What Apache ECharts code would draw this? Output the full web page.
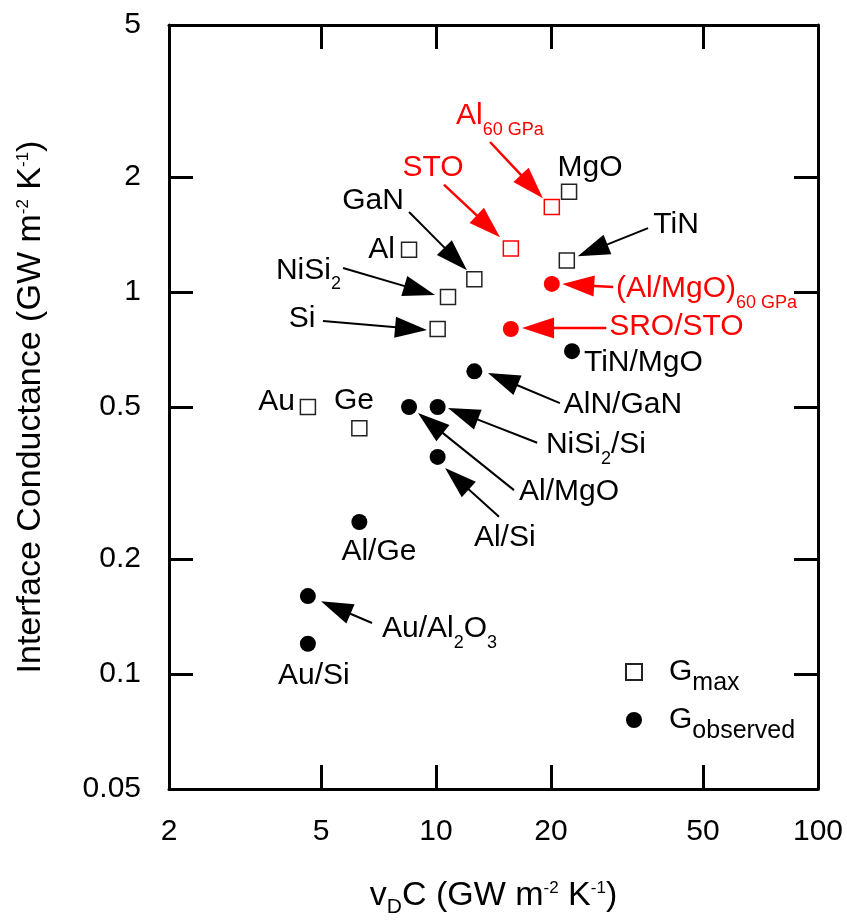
<!DOCTYPE html>
<html lang="en">
<head>
<meta charset="UTF-8">
<title>Interface conductance vs vDC</title>
<script src="https://cdn.jsdelivr.net/npm/echarts@6/dist/echarts.min.js"></script>
<style>html,body{margin:0;padding:0;background:#fff}</style>
</head>
<body>
<div id="chart" style="width:847px;height:923px"></div>
<script>
// G_max, open squares
var maxNames = ['Al', 'MgO', 'TiN', 'GaN', 'NiSi2', 'Si', 'Au', 'Ge'];
var maxX = [8.5, 22.3, 22.0, 12.6, 10.75, 10.1, 4.62, 6.3];
var maxY = [1.29, 1.83, 1.21, 1.08, 0.97, 0.80, 0.50, 0.44];
// G_max at 60 GPa / STO (red squares)
var maxHpNames = ['Al 60 GPa', 'STO'];
var maxHpX = [20.1, 15.7];
var maxHpY = [1.67, 1.30];
// G_observed, filled circles
var obsNames = ['TiN/MgO', 'AlN/GaN', 'NiSi2/Si', 'Al/MgO', 'Al/Si', 'Al/Ge', 'Au/Al2O3', 'Au/Si'];
var obsX = [22.7, 12.6, 10.1, 8.5, 10.1, 6.3, 4.62, 4.62];
var obsY = [0.70, 0.62, 0.50, 0.50, 0.37, 0.25, 0.16, 0.12];
var obsHpNames = ['(Al/MgO) 60 GPa', 'SRO/STO'];
var obsHpX = [20.1, 15.7];
var obsHpY = [1.05, 0.80];

var xTicks = [2, 5, 10, 20, 50, 100];
var yTicks = [0.05, 0.1, 0.2, 0.5, 1, 2, 5];

// text notes, anchored in data units
var noteText = ['MgO', 'GaN', 'Al', 'NiSi{s|2}', 'Si', 'TiN', 'TiN/MgO', 'AlN/GaN', 'NiSi{s|2}/Si',
  'Al/MgO', 'Al/Si', 'Al/Ge', 'Au/Al{s|2}O{s|3}', 'Au/Si', 'Au', 'Ge'];
var noteX = [25.3, 6.84, 7.81, 3.81, 4.46, 42.5, 24.4, 21.6, 19.4, 16.5, 12.57, 7.09, 7.22, 4.79, 4.27, 6.10];
var noteY = [2.11, 1.73, 1.29, 1.14, 0.85, 1.50, 0.652, 0.506, 0.398, 0.30, 0.228, 0.209, 0.131, 0.0988, 0.515, 0.518];
var noteAlign = ['center', 'center', 'right', 'left', 'center', 'center', 'left', 'left', 'left',
  'left', 'left', 'center', 'left', 'center', 'right', 'center'];
var hpNoteText = ['Al{s|60 GPa}', 'STO', '(Al/MgO){s|60 GPa}', 'SRO/STO'];
var hpNoteX = [11.28, 9.82, 29.6, 28.4];
var hpNoteY = [2.89, 2.11, 1.02, 0.81];
var hpNoteAlign = ['left', 'center', 'left', 'left'];

// arrows: tail -> tip
var arrowFromX = [8.5, 5.71, 5.06, 35.9, 21.1, 18.4, 16.0, 14.62, 6.80];
var arrowFromY = [1.62, 1.156, 0.84, 1.47, 0.512, 0.403, 0.303, 0.258, 0.136];
var arrowToX = [12.05, 9.94, 9.47, 23.5, 13.68, 10.75, 8.97, 10.56, 5.00];
var arrowToY = [1.14, 0.982, 0.795, 1.24, 0.614, 0.497, 0.482, 0.346, 0.155];
var hpArrowFromX = [13.85, 10.49, 29.1, 27.9];
var hpArrowFromY = [2.47, 1.91, 1.03, 0.805];
var hpArrowToX = [19.05, 14.71, 21.4, 16.8];
var hpArrowToY = [1.76, 1.39, 1.05, 0.805];

var FONT = "'Liberation Sans', Arial, sans-serif";
var RED = '#ff0000';

function zip(xs, ys) {
  return xs.map(function (x, i) { return [x, ys[i]]; });
}
function fmt(v) { return String(+(+v).toPrecision(3)); }

function arrowRenderer(color, lw) {
  return function (params, api) {
    var s = api.coord([api.value(0), api.value(1)]);
    var t = api.coord([api.value(2), api.value(3)]);
    var dx = t[0] - s[0], dy = t[1] - s[1];
    var len = Math.sqrt(dx * dx + dy * dy);
    var ux = dx / len, uy = dy / len;
    var hl = 32, hw = 10.5;
    var bx = t[0] - ux * hl, by = t[1] - uy * hl;
    return {
      type: 'group',
      children: [
        { type: 'line', shape: { x1: s[0], y1: s[1], x2: bx + ux * 4, y2: by + uy * 4 },
          style: { stroke: color, lineWidth: lw } },
        { type: 'polygon', shape: { points: [[t[0], t[1]], [bx - uy * hw, by + ux * hw], [bx + uy * hw, by - ux * hw]] },
          style: { fill: color } }
      ]
    };
  };
}

function noteRenderer(texts, aligns, color) {
  return function (params, api) {
    var p = api.coord([api.value(0), api.value(1)]);
    var i = params.dataIndex;
    return {
      type: 'text',
      x: p[0], y: p[1],
      style: {
        text: texts[i],
        align: aligns[i],
        verticalAlign: 'middle',
        fill: color,
        font: '30px ' + FONT,
        rich: { s: { font: '18px ' + FONT, fill: color, padding: [28, 0, 0, 0] } }
      }
    };
  };
}

function arrowData(fx, fy, tx, ty) {
  return fx.map(function (x, i) { return [x, fy[i], tx[i], ty[i]]; });
}

var titleRich = {
  sup: { fontSize: 17, fontFamily: FONT, color: '#000', padding: [0, 0, 15, 0] },
  sub: { fontSize: 21, fontFamily: FONT, color: '#000', padding: [24, 0, 0, 0] }
};

function axisCommon(ticks) {
  return {
    type: 'log',
    logBase: 10,
    axisLine: { show: true, onZero: false, lineStyle: { color: '#000', width: 3 } },
    axisTick: { show: true, inside: true, length: 24, customValues: ticks, lineStyle: { color: '#000', width: 3 } },
    splitLine: { show: false },
    minorTick: { show: false },
    minorSplitLine: { show: false }
  };
}

var xBottom = Object.assign(axisCommon(xTicks), {
  min: 2, max: 100, position: 'bottom',
  name: 'v{sub|D}C (GW m{sup|-2} K{sup|-1})',
  nameLocation: 'middle', nameGap: 84,
  nameTextStyle: { fontSize: 34, fontFamily: FONT, color: '#000', rich: titleRich },
  axisLabel: { show: true, customValues: xTicks, margin: 28, fontSize: 30, fontFamily: FONT, color: '#000', formatter: fmt }
});
var xTop = Object.assign(axisCommon(xTicks), {
  min: 2, max: 100, position: 'top', axisLabel: { show: false }
});
var yLeft = Object.assign(axisCommon(yTicks), {
  min: 0.05, max: 5, position: 'left',
  name: 'Interface Conductance (GW m{sup|-2} K{sup|-1})',
  nameLocation: 'middle', nameGap: 121,
  nameTextStyle: { fontSize: 34, fontFamily: FONT, color: '#000', rich: titleRich },
  axisLabel: { show: true, customValues: yTicks, margin: 28, fontSize: 30, fontFamily: FONT, color: '#000', formatter: fmt }
});
var yRight = Object.assign(axisCommon(yTicks), {
  min: 0.05, max: 5, position: 'right', axisLabel: { show: false }
});

var chart = echarts.init(document.getElementById('chart'), null, { renderer: 'canvas' });
chart.setOption({
  backgroundColor: '#fff',
  animation: false,
  grid: { left: 169, right: 29, top: 25, bottom: 134, containLabel: false, outerBoundsMode: 'none' },
  legend: {
    data: ['G_max', 'G_observed'],
    orient: 'vertical',
    left: 625, top: 657,
    padding: 0,
    itemWidth: 16, itemHeight: 16, itemGap: 9,
    selectedMode: false,
    textStyle: {
      fontSize: 30, fontFamily: FONT, color: '#000',
      rich: {
        g: { fontSize: 30, fontFamily: FONT, color: '#000', padding: [0, 0, 0, 22] },
        s: { fontSize: 25, fontFamily: FONT, color: '#000', padding: [23, 0, 0, 0] }
      }
    },
    formatter: function (name) {
      return name === 'G_max' ? '{g|G}{s|max}' : '{g|G}{s|observed}';
    }
  },
  xAxis: [xBottom, xTop],
  yAxis: [yLeft, yRight],
  series: [
    {
      name: 'G_max', type: 'scatter', symbol: 'rect', symbolSize: 15,
      data: zip(maxX, maxY),
      itemStyle: { color: '#fff', borderColor: '#222', borderWidth: 1.5, opacity: 1 }, z: 4
    },
    {
      name: 'G_max (red)', type: 'scatter', symbol: 'rect', symbolSize: 15,
      data: zip(maxHpX, maxHpY),
      itemStyle: { color: '#fff', borderColor: RED, borderWidth: 1.5, opacity: 1 }, z: 4
    },
    {
      name: 'G_observed', type: 'scatter', symbol: 'circle', symbolSize: 16,
      data: zip(obsX, obsY),
      itemStyle: { color: '#000', opacity: 1 }, z: 4
    },
    {
      name: 'G_observed (red)', type: 'scatter', symbol: 'circle', symbolSize: 16,
      data: zip(obsHpX, obsHpY),
      itemStyle: { color: RED, opacity: 1 }, z: 4
    },
    {
      type: 'custom', name: 'arrows', silent: true, z: 3,
      encode: { x: [0, 2], y: [1, 3] },
      data: arrowData(arrowFromX, arrowFromY, arrowToX, arrowToY),
      renderItem: arrowRenderer('#000', 2)
    },
    {
      type: 'custom', name: 'arrows red', silent: true, z: 3,
      encode: { x: [0, 2], y: [1, 3] },
      data: arrowData(hpArrowFromX, hpArrowFromY, hpArrowToX, hpArrowToY),
      renderItem: arrowRenderer(RED, 2.5)
    },
    {
      type: 'custom', name: 'notes', silent: true, z: 5,
      data: zip(noteX, noteY),
      renderItem: noteRenderer(noteText, noteAlign, '#000')
    },
    {
      type: 'custom', name: 'notes red', silent: true, z: 5,
      data: zip(hpNoteX, hpNoteY),
      renderItem: noteRenderer(hpNoteText, hpNoteAlign, RED)
    }
  ]
});
</script>
</body>
</html>
